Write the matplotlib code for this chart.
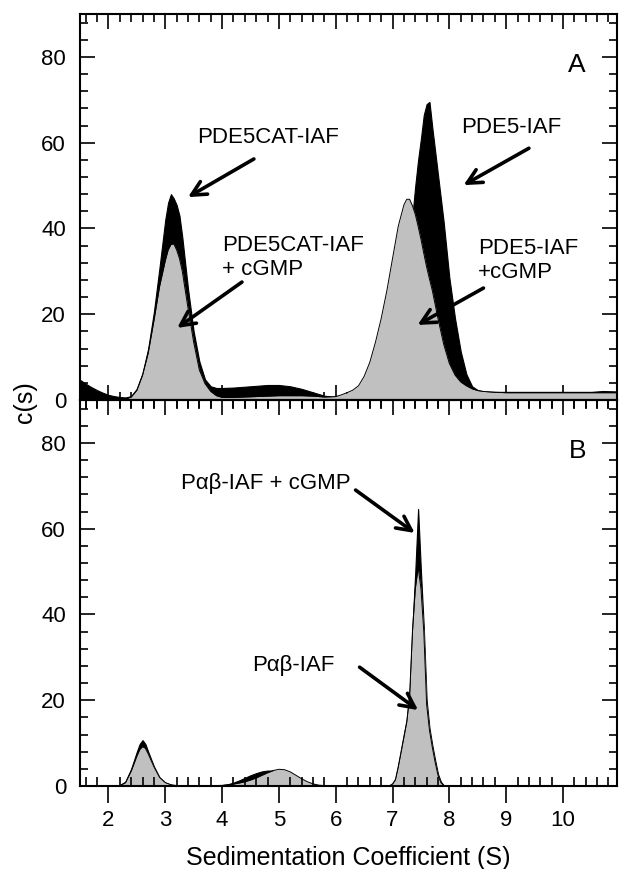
import numpy as np
import matplotlib
matplotlib.use("Agg")
import matplotlib.pyplot as plt
from matplotlib.ticker import MultipleLocator

plt.rcParams['font.family'] = ['Liberation Sans', 'DejaVu Sans']

# ---- panel A: PDE5CAT-IAF / PDE5-IAF, without and with cGMP ----
s_a = [1.5, 1.6, 1.7, 1.8, 1.9, 2.0, 2.1, 2.2, 2.3, 2.4,
       2.5, 2.6, 2.7, 2.8, 2.9, 3.0, 3.05, 3.1, 3.15, 3.2,
       3.25, 3.3, 3.4, 3.5, 3.6, 3.7, 3.8, 3.9, 4.0, 4.2,
       4.4, 4.6, 4.8, 5.0, 5.2, 5.4, 5.6, 5.8, 6.0, 6.1,
       6.2, 6.3, 6.4, 6.5, 6.6, 6.7, 6.8, 6.9, 7.0, 7.1,
       7.2, 7.25, 7.3, 7.35, 7.4, 7.45, 7.5, 7.55, 7.6, 7.65,
       7.7, 7.8, 7.9, 8.0, 8.1, 8.2, 8.3, 8.4, 8.5, 8.6,
       8.8, 9.0, 9.5, 10.0, 10.5, 10.7, 10.95]
c_a_apo = [4.7, 3.8, 3.0, 2.3, 1.7, 1.2, 0.9, 0.7, 0.6, 0.9,
           2.6, 6.2, 12.0, 20.5, 31.0, 42.0, 46.0, 48.0, 47.0, 45.5,
           43.0, 38.0, 26.0, 16.0, 9.0, 4.8, 3.2, 2.8, 2.8, 2.9,
           3.1, 3.3, 3.5, 3.5, 3.2, 2.6, 1.8, 1.0, 0.7, 0.9,
           1.2, 1.6, 2.2, 3.0, 4.0, 5.4, 7.0, 9.2, 12.0, 17.0,
           25.0, 30.0, 36.0, 43.0, 50.0, 56.0, 61.0, 66.5, 69.0, 69.5,
           63.5, 52.5, 41.5, 28.5, 19.0, 11.3, 6.0, 3.2, 2.3, 2.0,
           1.9, 1.9, 1.9, 1.9, 1.9, 2.1, 2.0]
c_a_cgmp = [0.0, 0.0, 0.0, 0.0, 0.0, 0.0, 0.0, 0.0, 0.2, 0.7,
            2.3, 5.8, 11.0, 18.5, 26.5, 32.5, 35.0, 36.3, 36.4, 35.0,
            33.0, 30.0, 21.5, 13.5, 7.0, 3.8, 2.0, 1.0, 0.6, 0.6,
            0.7, 0.8, 0.9, 1.0, 1.0, 1.0, 0.9, 0.7, 0.8, 1.2,
            1.7, 2.3, 3.3, 5.5, 8.8, 13.5, 19.0, 25.5, 33.0, 40.5,
            45.5, 46.8, 46.8, 45.3, 43.3, 40.5, 37.5, 34.2, 31.0, 28.2,
            25.5, 19.0, 13.0, 8.5, 5.8, 4.2, 3.3, 2.6, 2.2, 2.0,
            1.8, 1.7, 1.7, 1.7, 1.7, 1.7, 1.7]

# ---- panel B: Pab-IAF, without and with cGMP ----
s_b = [1.5, 2.0, 2.1, 2.2, 2.3, 2.4, 2.5, 2.55, 2.6, 2.65,
       2.7, 2.8, 2.9, 3.0, 3.1, 3.2, 3.4, 3.6, 3.8, 4.0,
       4.1, 4.2, 4.3, 4.4, 4.5, 4.6, 4.7, 4.8, 4.9, 5.0,
       5.1, 5.2, 5.3, 5.4, 5.5, 5.6, 5.7, 5.8, 6.0, 6.5,
       6.9, 6.95, 7.0, 7.05, 7.1, 7.15, 7.2, 7.25, 7.3, 7.35,
       7.4, 7.45, 7.5, 7.55, 7.6, 7.65, 7.7, 7.75, 7.8, 7.85,
       7.9, 8.0, 8.5, 9.0, 10.0, 10.95]
c_b_apo = [0.0, 0.0, 0.0, 0.1, 0.8, 3.5, 7.0, 8.5, 9.2, 8.8,
           7.5, 4.5, 2.0, 0.8, 0.3, 0.1, 0.0, 0.0, 0.05, 0.15,
           0.3, 0.45, 0.7, 1.0, 1.4, 1.9, 2.5, 3.1, 3.6, 3.9,
           3.8, 3.3, 2.5, 1.7, 1.0, 0.5, 0.2, 0.1, 0.0, 0.0,
           0.0, 0.1, 0.5, 1.5, 4.5, 8.0, 11.5, 15.0, 21.0, 36.0,
           46.0, 51.0, 46.0, 36.0, 19.0, 13.0, 9.0, 5.5, 2.5, 0.8,
           0.1, 0.0, 0.0, 0.0, 0.0, 0.0]
c_b_cgmp = [0.0, 0.0, 0.0, 0.2, 1.0, 4.0, 8.0, 9.8, 10.7, 9.8,
            8.0, 4.6, 2.0, 0.8, 0.3, 0.1, 0.0, 0.0, 0.05, 0.2,
            0.4, 0.8, 1.3, 1.9, 2.5, 3.0, 3.4, 3.6, 3.6, 3.4,
            3.0, 2.5, 1.8, 1.2, 0.7, 0.4, 0.2, 0.1, 0.0, 0.0,
            0.0, 0.1, 0.5, 1.6, 4.8, 8.3, 12.0, 15.5, 22.0, 37.0,
            50.0, 64.6, 50.0, 37.0, 20.0, 13.5, 9.5, 6.0, 2.8, 1.0,
            0.2, 0.0, 0.0, 0.0, 0.0, 0.0]

# labels: text, text position, arrow tail, arrow tip
labels_a = [
    ("PDE5CAT-IAF", (4.81, 61.3), (4.56, 56.2), (3.40, 47.3), 'center'),
    ("PDE5CAT-IAF\n+ cGMP", (4.00, 33.2), (4.35, 27.5), (3.21, 16.8), 'left'),
    ("PDE5-IAF", (8.20, 63.6), (9.40, 58.7), (8.25, 50.1), 'left'),
    ("PDE5-IAF\n+cGMP", (8.50, 32.5), (8.60, 26.1), (7.44, 17.5), 'left'),
]
labels_b = [
    ("P\u03b1\u03b2-IAF + cGMP", (4.77, 70.6), (6.35, 69.0), (7.39, 59.0), 'center'),
    ("P\u03b1\u03b2-IAF", (5.26, 28.2), (6.42, 27.7), (7.45, 17.7), 'center'),
]

fig = plt.figure(figsize=(6.2, 8.69), dpi=100)
ax_a = fig.add_axes([80/620, 469/869, 537/620, 386/869])
ax_b = fig.add_axes([80/620, 83/869, 537/620, 386/869])


def draw_panel(ax, s, back, front, labels, tag):
    ax.fill_between(s, 0, back, color='black', lw=0.8, edgecolor='black')
    ax.fill_between(s, 0, front, color='#c0c0c0', lw=0)
    ax.plot(s, front, color='black', lw=0.7)
    ax.set_xlim(1.5, 10.95)
    ax.set_ylim(0, 90)
    ax.xaxis.set_major_locator(MultipleLocator(1))
    ax.xaxis.set_minor_locator(MultipleLocator(0.2))
    ax.yaxis.set_major_locator(MultipleLocator(20))
    ax.yaxis.set_minor_locator(MultipleLocator(4))
    ax.tick_params(which='both', direction='in', top=True, right=True,
                   width=1.2, labelsize=16)
    ax.tick_params(which='major', length=11)
    ax.tick_params(which='minor', length=5.5)
    ax.tick_params(axis='y', pad=10)
    for sp in ax.spines.values():
        sp.set_linewidth(1.5)
    for text, pos, tail, tip, ha in labels:
        ax.text(pos[0], pos[1], text, fontsize=16, ha=ha, va='center')
        ax.annotate('', xy=tip, xytext=tail,
                    arrowprops=dict(arrowstyle='->', lw=2.6, color='black',
                                    shrinkA=0, shrinkB=0, mutation_scale=26))
    ax.text(10.25, 78, tag, fontsize=19, ha='center', va='center')


draw_panel(ax_a, s_a, c_a_apo, c_a_cgmp, labels_a, 'A')
draw_panel(ax_b, s_b, c_b_cgmp, c_b_apo, labels_b, 'B')

# panel A: fills cover its own bottom ticks
ax_a.set_axisbelow(True)
ax_a.tick_params(axis='x', labelbottom=False)

# panel B: outward ticks on the bottom, inward on top
ax_b.tick_params(axis='x', direction='out', top=False, pad=5)
ax_b.tick_params(axis='x', which='major', length=12)
ax_b.tick_params(axis='x', which='minor', length=6.5)
top = ax_b.secondary_xaxis('top')
top.xaxis.set_major_locator(MultipleLocator(1))
top.xaxis.set_minor_locator(MultipleLocator(0.2))
top.tick_params(which='both', direction='in', width=1.2, labeltop=False)
top.tick_params(which='major', length=11)
top.tick_params(which='minor', length=5.5)
top.spines['top'].set_linewidth(1.5)

ax_b.set_xlabel('Sedimentation Coefficient (S)', fontsize=18, labelpad=11)
fig.text(25/620, 1 - 402/869, 'c(s)', rotation=90, fontsize=18,
         ha='center', va='center')

fig.savefig('out.png', dpi=100)
